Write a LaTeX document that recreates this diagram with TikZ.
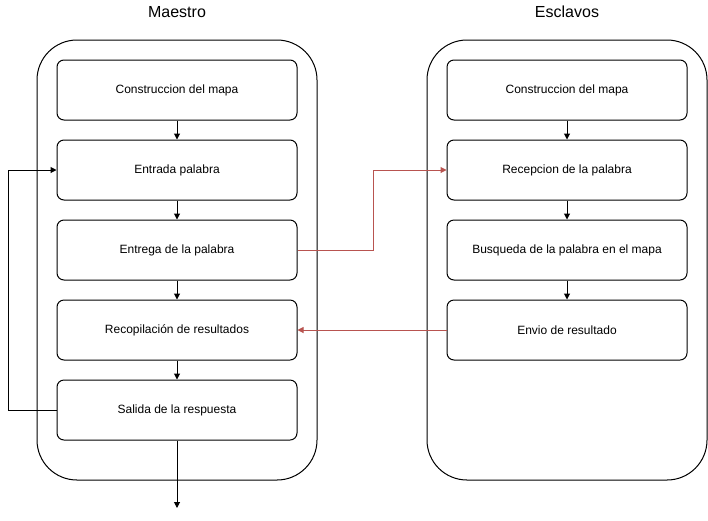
\documentclass[tikz,border=0pt]{standalone}
\usepackage{fontspec}
\setmainfont{Liberation Sans}
\usetikzlibrary{arrows.meta}
\definecolor{redline}{HTML}{B85450}
\begin{document}
\begin{tikzpicture}[x=1pt,y=-1pt,
  container/.style={draw, line width=1pt, rounded corners=40pt},
  stepbox/.style={draw, line width=1pt, rounded corners=7pt, minimum width=240pt, minimum height=60pt, inner sep=0pt, font=\fontsize{12}{14}\selectfont},
  title/.style={font=\fontsize{16}{19}\selectfont},
  arr/.style={-{Triangle[length=6pt,width=6pt]}, line width=1pt},
  redarr/.style={arr, draw=redline}
]
\useasboundingbox (0,0) rectangle (708,520);
\draw[container] (37,40) rectangle (317,480);
\draw[container] (427,40) rectangle (707,480);
\node[title] (tm) at (177,12) {Maestro};
\node[title] (te) at (567,12) {Esclavos};

\node[stepbox] (m1) at (177,90) {Construccion del mapa};
\node[stepbox] (m2) at (177,170) {Entrada palabra};
\node[stepbox] (m3) at (177,250) {Entrega de la palabra};
\node[stepbox] (m4) at (177,330) {Recopilación de resultados};
\node[stepbox] (m5) at (177,410) {Salida de la respuesta};

\node[stepbox] (s1) at (567,90) {Construccion del mapa};
\node[stepbox] (s2) at (567,170) {Recepcion de la palabra};
\node[stepbox] (s3) at (567,250) {Busqueda de la palabra en el mapa};
\node[stepbox] (s4) at (567,330) {Envio de resultado};

\coordinate (out) at (177,508);

\draw[arr] (m1) -- (m2);
\draw[arr] (m2) -- (m3);
\draw[arr] (m3) -- (m4);
\draw[arr] (m4) -- (m5);
\draw[arr] (m5) -- (out);
\draw[arr] (m5.west) -- (8,410) -- (8,170) -- (m2.west);

\draw[arr] (s1) -- (s2);
\draw[arr] (s2) -- (s3);
\draw[arr] (s3) -- (s4);

\draw[redarr] (m3.east) -- (373,250) -- (373,170) -- (s2.west);
\draw[redarr] (s4.west) -- (m4.east);
\end{tikzpicture}
\end{document}
